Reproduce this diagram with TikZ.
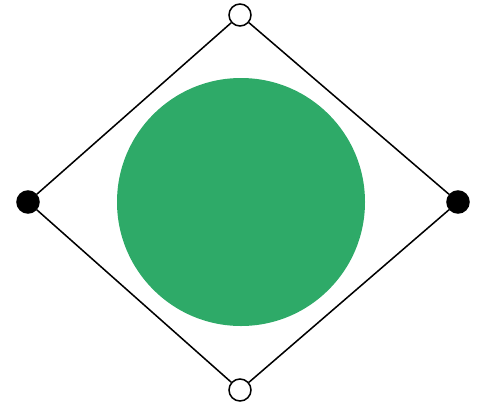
\documentclass[tikz,border=0pt]{standalone}
\usepackage{tikz}
\definecolor{ballgreen}{RGB}{46,170,104}
\tikzset{
  openv/.style={draw, circle, fill=white, line width=1.3pt, minimum size=0.66cm, inner sep=0pt},
  fullv/.style={draw, circle, fill=black, line width=1.3pt, minimum size=0.66cm, inner sep=0pt},
}
\begin{document}
\begin{tikzpicture}[x=0.03cm, y=-0.03cm]
    \useasboundingbox (0,0) rectangle (477,408);
    \fill[ballgreen] (241,202) circle (124);
    \node[openv] (top) at (240,15) {};
    \node[fullv] (left) at (28,202) {};
    \node[fullv] (right) at (458,202) {};
    \node[openv] (bottom) at (240,390) {};
    \draw[line width=1.3pt] (top) -- (right);
    \draw[line width=1.3pt] (right) -- (bottom);
    \draw[line width=1.3pt] (bottom) -- (left);
    \draw[line width=1.3pt] (left) -- (top);
  \end{tikzpicture}
\end{document}
